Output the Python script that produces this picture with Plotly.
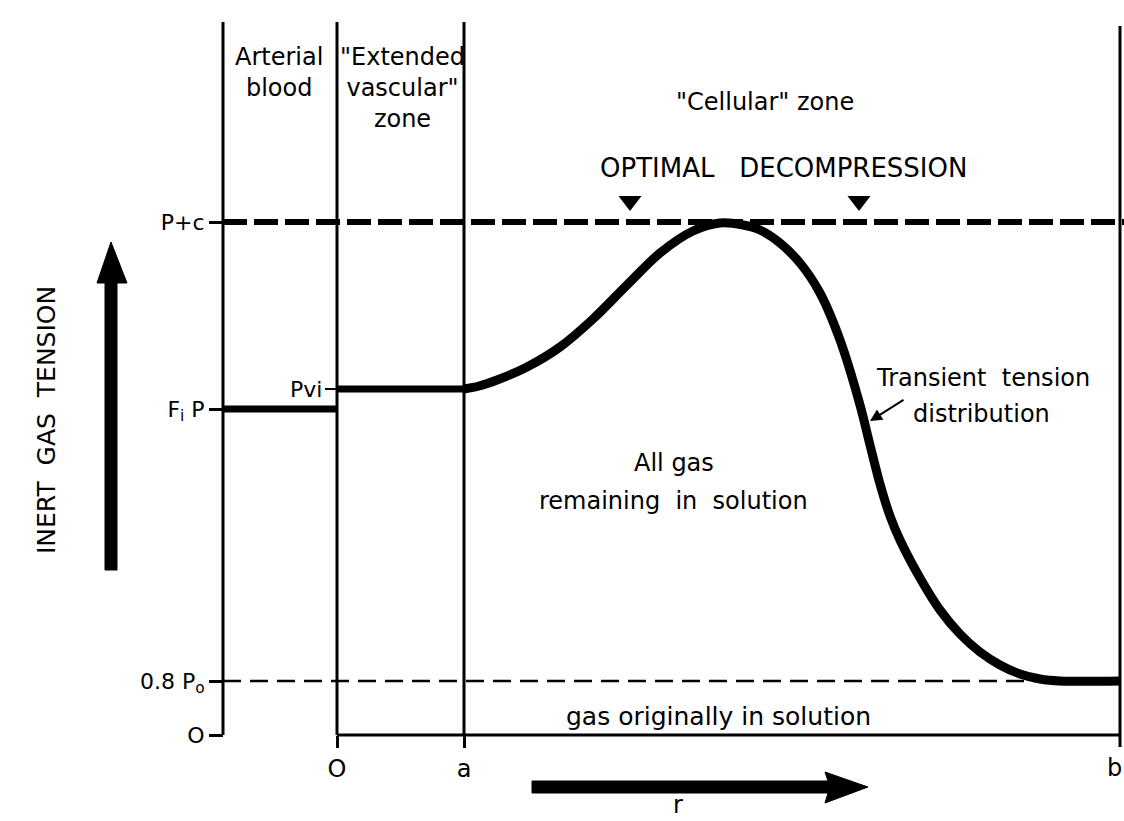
import plotly.graph_objects as go

# ---------------- data (r in units where 'O'=0; tension in plot units) ----------------
r_left_axis = -1.14
r_zero = 0.0
r_a = 1.27
r_b = 7.83
r_right_edge = 7.87
line_top = 7.13
line_top_b = 7.09
b_tick_bottom = -0.12

T_zero = 0.0
T_08Po = 0.54
T_FiP = 3.26
T_Pvi = 3.46
T_Pc = 5.13

x_ticks = [r_zero, r_a]
x_ticktext = ["O", "a"]
b_label = "b"
y_ticks = [T_zero, T_08Po, T_FiP, T_Pc]
y_ticktext = ["O", "0.8 P<sub>o</sub>", "F<sub>i</sub> P", "P+c"]

curve_r = [1.27, 1.42, 1.60, 1.90, 2.23, 2.56, 2.90, 3.23, 3.56, 3.83, 4.06, 4.23, 4.43,
           4.63, 4.83, 5.03, 5.23, 5.33, 5.43, 5.53, 5.63, 5.83, 6.03, 6.23, 6.43,
           6.63, 6.83, 7.03, 7.23, 7.83]
curve_T = [3.46, 3.49, 3.55, 3.68, 3.88, 4.16, 4.50, 4.82, 5.04, 5.12, 5.10, 5.05, 4.92,
           4.72, 4.42, 3.95, 3.30, 2.90, 2.51, 2.19, 1.95, 1.57, 1.25, 1.01, 0.83,
           0.70, 0.61, 0.56, 0.54, 0.54]

marker_r = [2.93, 5.22]
marker_T = [5.34, 5.34]

FONT = "DejaVu Sans"
BLACK = "black"


def X(px):
    return (px - 337) / 100.0


def Y(py):
    return (735 - py) / 100.0


fig = go.Figure()

# vertical boundaries
fig.add_trace(go.Scatter(
    x=[r_left_axis, r_left_axis, None, r_zero, r_zero, None, r_a, r_a, None, r_b, r_b],
    y=[line_top, T_zero, None, line_top, T_zero, None, line_top, T_zero, None, line_top_b, b_tick_bottom],
    mode="lines", line=dict(color=BLACK, width=3), hoverinfo="skip"))

# baseline
fig.add_trace(go.Scatter(x=[r_zero, r_b], y=[T_zero, T_zero], mode="lines",
                         line=dict(color=BLACK, width=3), hoverinfo="skip"))

# P+c dashed
fig.add_trace(go.Scatter(x=[r_left_axis, r_right_edge], y=[T_Pc, T_Pc], mode="lines",
                         line=dict(color=BLACK, width=6, dash="24px,7px"), hoverinfo="skip"))

# 0.8 Po dashed
fig.add_trace(go.Scatter(x=[r_left_axis, r_b], y=[T_08Po, T_08Po], mode="lines",
                         line=dict(color=BLACK, width=2.5, dash="18px,9px"), hoverinfo="skip"))

# FiP arterial level
fig.add_trace(go.Scatter(x=[r_left_axis, r_zero], y=[T_FiP, T_FiP], mode="lines",
                         line=dict(color=BLACK, width=7), hoverinfo="skip"))

# Pvi level
fig.add_trace(go.Scatter(x=[r_zero, r_a], y=[T_Pvi, T_Pvi], mode="lines",
                         line=dict(color=BLACK, width=7), hoverinfo="skip"))
fig.add_trace(go.Scatter(x=[r_zero - 0.12, r_zero], y=[T_Pvi, T_Pvi], mode="lines",
                         line=dict(color=BLACK, width=2), hoverinfo="skip"))

# transient tension curve
fig.add_trace(go.Scatter(x=curve_r, y=curve_T, mode="lines",
                         line=dict(color=BLACK, width=9, shape="spline", smoothing=0.9),
                         hoverinfo="skip"))

# optimal decompression markers
fig.add_trace(go.Scatter(x=marker_r, y=marker_T, mode="markers",
                         marker=dict(symbol="triangle-down", size=20, color=BLACK),
                         hoverinfo="skip"))

# big arrows (decorations)
up_arrow = (f"M {X(105)},{Y(570)} L {X(105)},{Y(283)} L {X(97)},{Y(283)} L {X(111)},{Y(242)} "
            f"L {X(127)},{Y(283)} L {X(117)},{Y(283)} L {X(117)},{Y(570)} Z")
right_arrow = (f"M {X(532)},{Y(781)} L {X(828)},{Y(781)} L {X(825)},{Y(772)} L {X(868)},{Y(787)} "
               f"L {X(825)},{Y(803)} L {X(828)},{Y(793)} L {X(532)},{Y(793)} Z")
shapes = [
    dict(type="path", path=up_arrow, xref="x", yref="y", fillcolor=BLACK, line=dict(color=BLACK, width=1)),
    dict(type="path", path=right_arrow, xref="x", yref="y", fillcolor=BLACK, line=dict(color=BLACK, width=1)),
]


def txt(x, y, text, size=24, **kw):
    d = dict(x=x, y=y, xref="x", yref="y", text=text, showarrow=False,
             font=dict(family=FONT, size=size, color=BLACK))
    d.update(kw)
    return d


annotations = [
    txt(X(279), Y(72), "Arterial<br>blood"),
    txt(X(402), Y(88), "\"Extended<br>vascular\"<br>zone"),
    txt(X(765), Y(102), "\"Cellular\" zone"),
    txt(X(783), Y(168), "OPTIMAL\u00a0\u00a0\u00a0DECOMPRESSION", size=26),
    txt(X(983), Y(378), "Transient\u00a0\u00a0tension"),
    txt(X(981), Y(414), "distribution"),
    txt(X(674), Y(463), "All gas"),
    txt(X(673), Y(501), "remaining\u00a0\u00a0in\u00a0\u00a0solution"),
    txt(X(718), Y(716), "gas originally in solution", size=25),
    txt(X(324), Y(389), "Pvi", size=22, xanchor="right"),
    txt(X(46), Y(420), "INERT\u00a0\u00a0GAS\u00a0\u00a0TENSION", size=25, textangle=-90),
    txt(X(678), Y(821), "r", size=24, yanchor="bottom"),
    txt(X(1124), Y(768), b_label, size=24, xanchor="right"),
    dict(x=X(870), y=Y(421), xref="x", yref="y", text="", showarrow=True,
         ax=35, ay=-22, arrowhead=2, arrowsize=1.2, arrowwidth=2, arrowcolor=BLACK),
]

fig.update_layout(
    width=1124, height=821,
    margin=dict(l=0, r=0, t=0, b=0),
    paper_bgcolor="white", plot_bgcolor="white",
    showlegend=False,
    shapes=shapes,
    annotations=annotations,
    xaxis=dict(range=[X(0), X(1124)], showgrid=False, zeroline=False, showline=False,
               tickmode="array", tickvals=x_ticks, ticktext=x_ticktext,
               ticks="outside", ticklen=12, tickwidth=3, tickcolor=BLACK,
               tickfont=dict(family=FONT, size=24, color=BLACK),
               anchor="free", position=(821 - 735) / 821, automargin=False, fixedrange=True),
    yaxis=dict(range=[Y(821), Y(0)], showgrid=False, zeroline=False, showline=False,
               tickmode="array", tickvals=y_ticks, ticktext=y_ticktext,
               ticks="outside", ticklen=14, tickwidth=3, tickcolor=BLACK,
               tickfont=dict(family=FONT, size=22, color=BLACK),
               anchor="free", position=223 / 1124, automargin=False, fixedrange=True),
)

fig.write_html("out.html", config={"displayModeBar": False},
               post_script="document.body.style.margin='0';")
